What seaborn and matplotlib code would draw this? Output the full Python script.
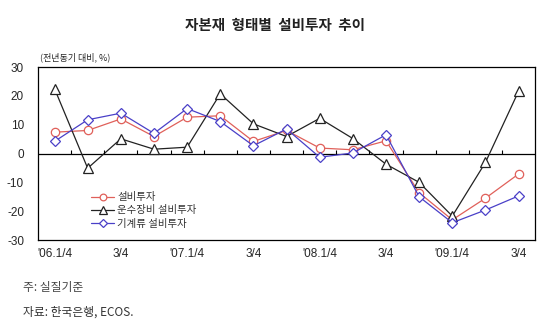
import matplotlib
matplotlib.use("Agg")
import matplotlib.pyplot as plt
import seaborn as sns
import pandas as pd

quarters = ["06Q1","06Q2","06Q3","06Q4","07Q1","07Q2","07Q3","07Q4",
            "08Q1","08Q2","08Q3","08Q4","09Q1","09Q2","09Q3"]
tick_labels = ["'06.1/4", "3/4", "'07.1/4", "3/4", "'08.1/4", "3/4", "'09.1/4", "3/4"]
total = [7.4, 8.0, 12.0, 5.9, 12.6, 13.1, 4.2, 8.0, 1.9, 1.3, 4.4, -13.6, -23.0, -15.5, -7.1]
transport = [22.5, -5.1, 5.1, 1.5, 2.2, 20.7, 10.3, 5.9, 12.2, 5.2, -3.7, -10.0, -21.7, -3.1, 21.6]
machinery = [4.2, 11.7, 14.0, 7.0, 15.6, 11.1, 2.7, 8.5, -1.3, 0.2, 6.5, -15.0, -24.0, -19.6, -14.7]
names = ["설비투자", "운수장비 설비투자", "기계류 설비투자"]

sns.set_theme(style="white")
plt.rcParams['font.family'] = ['Noto Sans CJK KR', 'Liberation Sans', 'DejaVu Sans']

fig = plt.figure(figsize=(5.5, 3.27), dpi=100)
ax = fig.add_axes([0.069, 0.266, 0.904, 0.529])

idx = list(range(len(quarters)))
series = [(total, "#e0605a", "o", 6), (transport, "#222222", "^", 7), (machinery, "#4a40c8", "D", 5)]
for (vals, col, mk, ms), nm in zip(series, names):
    df = pd.DataFrame({"q": idx, "v": vals})
    sns.lineplot(data=df, x="q", y="v", ax=ax, color=col, marker=mk, markersize=ms,
                 markerfacecolor="white", markeredgecolor=col, markeredgewidth=0.9,
                 linewidth=0.9, label=nm)

ax.axhline(0, color="black", linewidth=0.9, zorder=1)
ax.vlines([k + 0.5 for k in range(14)], 0, 1.2, color="black", linewidth=0.8)

ax.set_xlim(-0.5, 14.5)
ax.set_ylim(-30, 30)
ax.set_xticks(list(range(0, 15, 2)))
ax.set_xticklabels(tick_labels, fontsize=8.5, family=['Liberation Sans', 'DejaVu Sans'])
ax.set_yticks([-30, -20, -10, 0, 10, 20, 30])
ax.set_yticklabels(["-30", "-20", "-10", "0", "10", "20", "30"], fontsize=8.5,
                   family=['Liberation Sans', 'DejaVu Sans'])
ax.tick_params(axis="both", length=0, pad=6)
ax.tick_params(axis="y", pad=10)
ax.set_xlabel("")
ax.set_ylabel("")
for s in ax.spines.values():
    s.set_color("black")
    s.set_linewidth(0.9)

leg = ax.legend(loc="lower left", bbox_to_anchor=(0.095, 0.03), frameon=False,
                fontsize=7.5, handlelength=2.2, handletextpad=0.3,
                labelspacing=0.3, borderaxespad=0.2, markerscale=0.8)
for t in leg.get_texts():
    t.set_color("#333333")

fig.text(0.5, 0.925, "자본재  형태별  설비투자  추이", ha="center", va="center",
         fontsize=10.5, fontweight="bold", color="#222222")
fig.text(0.072, 0.81, "(전년동기 대비, %)", ha="left", va="bottom", fontsize=6.5)
fig.text(0.042, 0.122, "주: 실질기준", ha="left", va="center", fontsize=8.5, color="#444444")
fig.text(0.042, 0.046, "자료: 한국은행, ECOS.", ha="left", va="center", fontsize=8.5, color="#333333")

fig.savefig("out.png", dpi=100)
